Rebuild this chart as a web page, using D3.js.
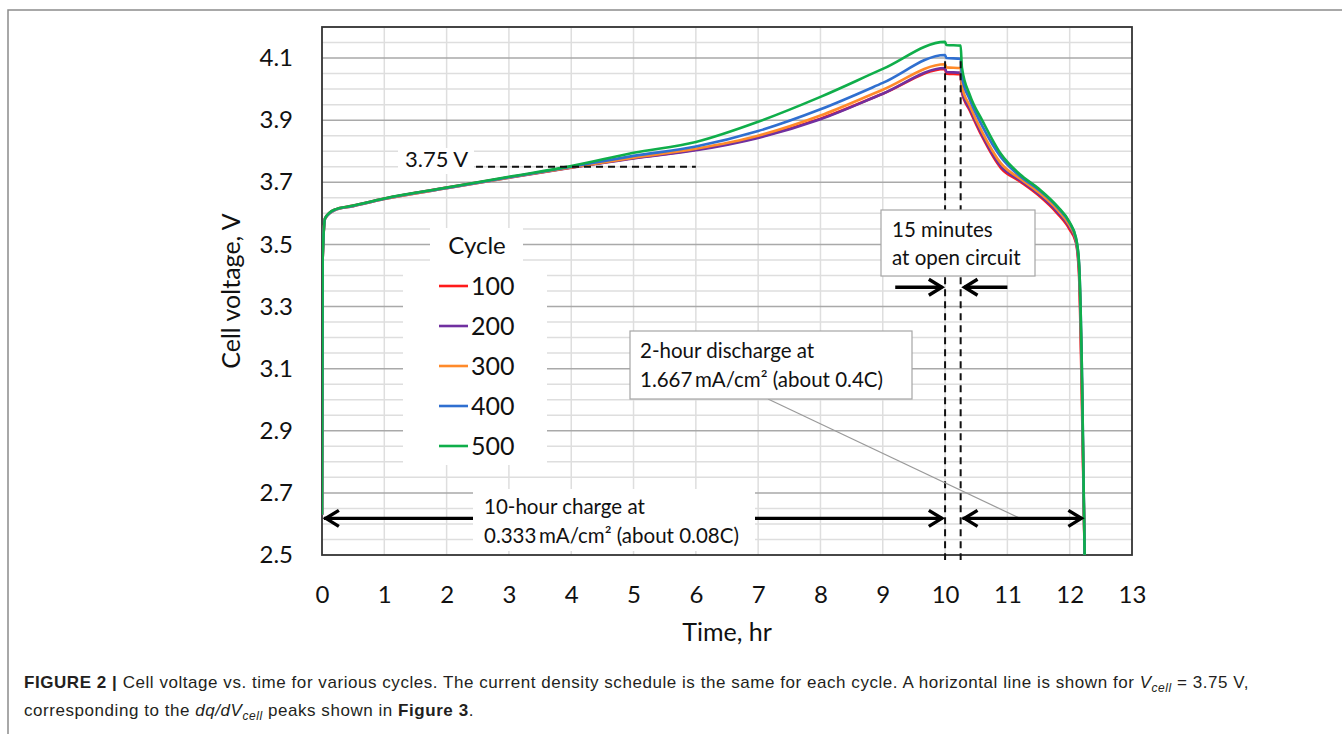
<!DOCTYPE html>
<html>
<head>
<meta charset="utf-8">
<script src="https://cdn.jsdelivr.net/npm/d3@7"></script>
<style>
  body { margin: 0; background: #fff; }
  svg { display: block; }
</style>
</head>
<body>
<div id="container"></div>
<script>
// ---- data ----
var cycles = ["100", "200", "300", "400", "500"];
var colors = ["#ff1a1a", "#7030a0", "#ff8a2a", "#2f6fd0", "#0fae4a"];

var hours = [0, 0.01, 0.05, 0.2, 0.5, 1, 2, 3, 4, 5, 6, 7, 8, 9, 10, 10.02, 10.25,
             10.27, 10.4, 10.6, 10.9, 11.2, 11.5, 11.8, 12.0, 12.1, 12.15, 12.2, 12.24];

var v100 = [2.63, 3.45, 3.585, 3.612, 3.625, 3.648, 3.683, 3.716, 3.748, 3.778, 3.805, 3.845, 3.905, 3.985, 4.065, 4.05, 4.048,
            3.99, 3.93, 3.845, 3.745, 3.703, 3.658, 3.60, 3.548, 3.506, 3.40, 2.95, 2.5];
var v200 = [2.63, 3.45, 3.583, 3.61, 3.623, 3.646, 3.681, 3.715, 3.747, 3.777, 3.803, 3.843, 3.903, 3.985, 4.068, 4.055, 4.053,
            3.995, 3.935, 3.85, 3.75, 3.707, 3.662, 3.605, 3.555, 3.51, 3.42, 3.0, 2.5];
var v300 = [2.63, 3.45, 3.583, 3.61, 3.623, 3.646, 3.681, 3.715, 3.748, 3.779, 3.808, 3.85, 3.915, 3.998, 4.08, 4.07, 4.068,
            4.01, 3.945, 3.86, 3.76, 3.712, 3.668, 3.612, 3.56, 3.515, 3.43, 3.0, 2.5];
var v400 = [2.63, 3.45, 3.584, 3.611, 3.624, 3.647, 3.682, 3.716, 3.75, 3.785, 3.815, 3.865, 3.935, 4.02, 4.11, 4.10, 4.098,
            4.04, 3.965, 3.88, 3.78, 3.72, 3.676, 3.62, 3.568, 3.52, 3.44, 3.05, 2.5];
var v500 = [2.63, 3.45, 3.585, 3.612, 3.625, 3.648, 3.683, 3.718, 3.752, 3.795, 3.83, 3.895, 3.975, 4.065, 4.152, 4.142, 4.14,
            4.07, 3.98, 3.898, 3.79, 3.726, 3.68, 3.623, 3.571, 3.522, 3.44, 3.05, 2.5];
var voltages = [v100, v200, v300, v400, v500];

var xTicks = [0, 1, 2, 3, 4, 5, 6, 7, 8, 9, 10, 11, 12, 13];
var yTicks = [2.5, 2.7, 2.9, 3.1, 3.3, 3.5, 3.7, 3.9, 4.1];

var font = "Lato, 'Open Sans', sans-serif";

var svg = d3.select("#container")
    .append("svg")
        .attr("width", 1342)
        .attr("height", 734);

// figure frame (top + left)
svg.append("path")
    .attr("d", "M8,734 V10 H1342")
    .attr("fill", "none")
    .attr("stroke", "#8c8c8c")
    .attr("stroke-width", 1.5);

var x = d3.scaleLinear().domain([0, 13]).range([322, 1132]);
var y = d3.scaleLinear().domain([2.5, 4.2]).range([555, 27]);

// gridlines: minor every 0.05 V, major on the labelled ticks
var minor = d3.range(51, 85).map(function(k) { return k / 20; })
    .filter(function(v) { return yTicks.indexOf(Math.round(v * 10) / 10) < 0 || Math.abs(v * 10 - Math.round(v * 10)) > 0.01; });

svg.append("g").selectAll("line")
    .data(xTicks.slice(1, -1))
    .enter().append("line")
    .attr("x1", function(d) { return x(d); })
    .attr("x2", function(d) { return x(d); })
    .attr("y1", y(4.2)).attr("y2", y(2.5))
    .attr("stroke", "#dedede").attr("stroke-width", 1.5);

svg.append("g").selectAll("line")
    .data(minor)
    .enter().append("line")
    .attr("x1", x(0)).attr("x2", x(13))
    .attr("y1", function(d) { return y(d); })
    .attr("y2", function(d) { return y(d); })
    .attr("stroke", "#dedede").attr("stroke-width", 1.5);

svg.append("g").selectAll("line")
    .data(yTicks.slice(1))
    .enter().append("line")
    .attr("x1", x(0)).attr("x2", x(13))
    .attr("y1", function(d) { return y(d); })
    .attr("y2", function(d) { return y(d); })
    .attr("stroke", "#a9a9a9").attr("stroke-width", 1.5);

// plot border
svg.append("rect")
    .attr("x", x(0)).attr("y", y(4.2))
    .attr("width", x(13) - x(0)).attr("height", y(2.5) - y(4.2))
    .attr("fill", "none").attr("stroke", "#333").attr("stroke-width", 1.8);

// axes
var yAxis = svg.append("g")
    .attr("transform", "translate(" + x(0) + ",0)")
    .call(d3.axisLeft(y).tickValues(yTicks).tickSize(0).tickPadding(29).tickFormat(d3.format(".1f")));
var xAxis = svg.append("g")
    .attr("transform", "translate(0," + y(2.5) + ")")
    .call(d3.axisBottom(x).tickValues(xTicks).tickSize(0).tickPadding(31).tickFormat(d3.format("d")));
[yAxis, xAxis].forEach(function(g) {
    g.select(".domain").remove();
    g.attr("font-family", font).attr("font-size", 24);
    g.selectAll("text").attr("fill", "#111");
});

svg.append("text")
    .attr("x", x(6.5)).attr("y", 641)
    .attr("text-anchor", "middle")
    .attr("font-family", font).attr("font-size", 25).attr("fill", "#111")
    .text("Time, hr");
svg.append("text")
    .attr("transform", "translate(240," + y(3.35) + ") rotate(-90)")
    .attr("text-anchor", "middle")
    .attr("font-family", font).attr("font-size", 25).attr("fill", "#111")
    .text("Cell voltage, V");

// curves
svg.append("clipPath").attr("id", "plotclip")
    .append("rect")
    .attr("x", x(0)).attr("y", y(4.2))
    .attr("width", x(13) - x(0)).attr("height", y(2.5) - y(4.2));

var line = d3.line()
    .x(function(d, i) { return x(hours[i]); })
    .y(function(d) { return y(d); })
    .curve(d3.curveMonotoneX);

svg.append("g").attr("clip-path", "url(#plotclip)")
    .selectAll("path")
    .data(voltages)
    .enter().append("path")
    .attr("d", line)
    .attr("fill", "none")
    .attr("stroke", function(d, i) { return colors[i]; })
    .attr("stroke-width", 2.6)
    .attr("stroke-linejoin", "round");

// dashed guide lines
function dashed(x1, y1, x2, y2) {
    svg.append("line")
        .attr("x1", x1).attr("y1", y1).attr("x2", x2).attr("y2", y2)
        .attr("stroke", "#111").attr("stroke-width", 2)
        .attr("stroke-dasharray", "7,5");
}
dashed(476, y(3.75), x(6), y(3.75));
dashed(x(10), y(4.09), x(10), 560);
dashed(x(10.25), y(4.09), x(10.25), 560);

// leader line from the discharge box to the discharge arrow
svg.append("line")
    .attr("x1", 768).attr("y1", 399).attr("x2", 1020).attr("y2", y(2.618))
    .attr("stroke", "#9a9a9a").attr("stroke-width", 1.2);

// arrows
function arrow(t1, t2, v, both) {
    var yy = y(v), a = x(t1), b = x(t2), dir = b > a ? 1 : -1;
    svg.append("line")
        .attr("x1", a).attr("y1", yy).attr("x2", b - dir * 1.5).attr("y2", yy)
        .attr("stroke", "#000").attr("stroke-width", 3.4);
    var head = function(px, d) {
        svg.append("path")
            .attr("d", "M" + (px - d * 13) + "," + (yy - 8) + " L" + px + "," + yy + " L" + (px - d * 13) + "," + (yy + 8))
            .attr("fill", "none").attr("stroke", "#000").attr("stroke-width", 3.4)
            .attr("stroke-linejoin", "miter");
    };
    head(b - dir * 2, dir);
    if (both) head(a + dir * 2, -dir);
}
arrow(0.03, 9.98, 2.618, true);
arrow(10.28, 12.22, 2.618, true);
arrow(9.2, 9.98, 3.362, false);
arrow(11.0, 10.28, 3.362, false);

// annotation boxes
function box(bx, by, bw, bh, border) {
    svg.append("rect")
        .attr("x", bx).attr("y", by).attr("width", bw).attr("height", bh)
        .attr("fill", "#fff")
        .attr("stroke", border ? "#a6a6a6" : "none").attr("stroke-width", 1.2);
}
function label(tx, ty, lines, size, gap) {
    var t = svg.append("text")
        .attr("font-family", font).attr("font-size", size).attr("fill", "#111");
    lines.forEach(function(s, i) {
        t.append("tspan").attr("x", tx).attr("y", ty + i * gap).text(s);
    });
}

box(473, 489, 282, 62, false);
label(484, 514, ["10-hour charge at", "0.333\u2009mA/cm\u00b2  (about 0.08C)"], 20.5, 29);

box(630, 331, 282, 68, true);
label(640, 358, ["2-hour discharge at", "1.667\u2009mA/cm\u00b2  (about 0.4C)"], 20.5, 29);

box(881, 210, 154, 66, true);
label(892, 237, ["15 minutes", "at open circuit"], 20.5, 28);

box(398, 148, 76, 26, false);
label(405, 167, ["3.75 V"], 22, 0);

// legend
var legend = svg.append("g");
legend.append("rect").attr("x", 430).attr("y", 228).attr("width", 93).attr("height", 36).attr("fill", "#fff");
legend.append("rect").attr("x", 403).attr("y", 263).attr("width", 144).attr("height", 202).attr("fill", "#fff");
legend.append("text")
    .attr("x", 477).attr("y", 254)
    .attr("text-anchor", "middle")
    .attr("font-family", font).attr("font-size", 24).attr("fill", "#111")
    .text("Cycle");
var entry = legend.selectAll("g.entry")
    .data(cycles)
    .enter().append("g")
    .attr("transform", function(d, i) { return "translate(0," + (286 + i * 40) + ")"; });
entry.append("line")
    .attr("x1", 439).attr("x2", 468)
    .attr("stroke", function(d, i) { return colors[i]; })
    .attr("stroke-width", 2.6);
entry.append("text")
    .attr("x", 471).attr("y", 9)
    .attr("font-family", font).attr("font-size", 25).attr("fill", "#111")
    .text(function(d) { return d; });

// caption
var cap = svg.append("g")
    .attr("font-family", "'Liberation Sans', Arial, sans-serif")
    .attr("font-size", 17).attr("letter-spacing", 0.55).attr("fill", "#231f20");
var l1 = cap.append("text").attr("x", 24).attr("y", 688);
l1.append("tspan").attr("font-weight", "bold").text("FIGURE 2 |");
l1.append("tspan").text(" Cell voltage vs. time for various cycles. The current density schedule is the same for each cycle. A horizontal line is shown for ");
l1.append("tspan").attr("font-style", "italic").text("V");
l1.append("tspan").attr("font-style", "italic").attr("font-size", 12).attr("dy", 4).text("cell");
l1.append("tspan").attr("dy", -4).text(" = 3.75 V,");
var l2 = cap.append("text").attr("x", 24).attr("y", 716);
l2.append("tspan").text("corresponding to the ");
l2.append("tspan").attr("font-style", "italic").text("dq/dV");
l2.append("tspan").attr("font-style", "italic").attr("font-size", 12).attr("dy", 4).text("cell");
l2.append("tspan").attr("dy", -4).text(" peaks shown in ");
l2.append("tspan").attr("font-weight", "bold").text("Figure 3");
l2.append("tspan").text(".");
</script>
</body>
</html>
